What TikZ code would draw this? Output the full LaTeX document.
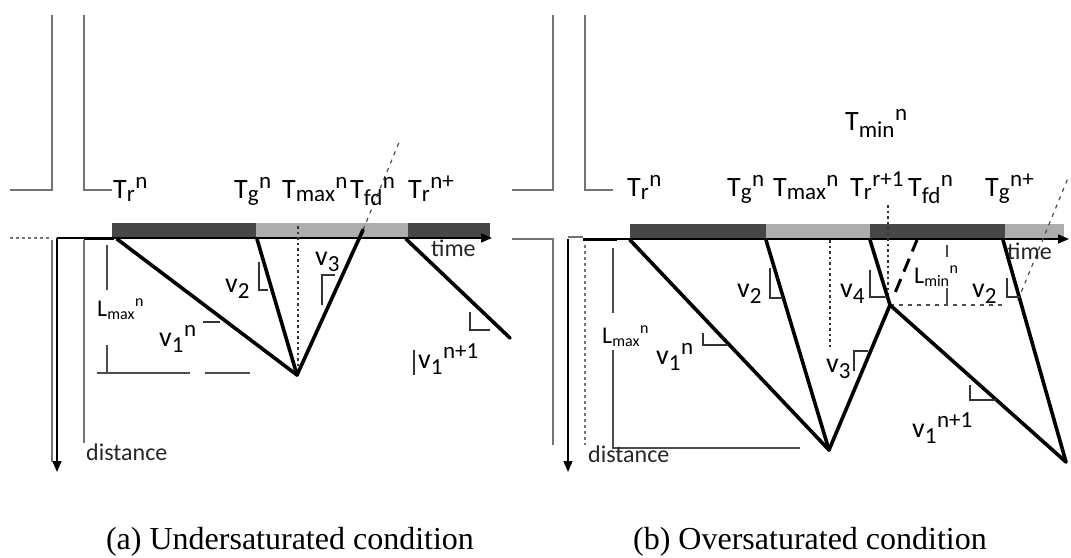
\documentclass[tikz,border=0pt]{standalone}
\usepackage{amsmath}
\usepackage{fontspec}
\setmainfont{Carlito}
\newfontfamily\capfont{Liberation Serif}
\usetikzlibrary{arrows.meta,calc}
\DeclareMathSizes{28}{28}{23}{17}
\DeclareMathSizes{24}{24}{16}{12}
% sub then sup after it
\newcommand\TL[3]{$\text{#1}_{\text{#2}}{}^{\text{#3}}$}
\tikzset{
  road/.style={draw=black!55, line width=1.6pt},
  axisline/.style={draw=black, line width=1.6pt},
  traj/.style={draw=black, line width=3.6pt, line cap=round},
  brk/.style={draw=black!80, line width=1.1pt},
  dimline/.style={draw=black!70, line width=1.3pt},
  dotv/.style={draw=black!80, line width=1.8pt, dash pattern=on 2.5pt off 3pt},
  dashx/.style={draw=black!70, line width=1.2pt, dash pattern=on 4pt off 5pt},
  darkbar/.style={fill=black!72, draw=none},
  lightbar/.style={fill=black!32, draw=none},
  lbl/.style={font=\fontsize{28}{30}\selectfont, inner sep=0pt, anchor=base west},
  slbl/.style={font=\fontsize{24}{26}\selectfont, inner sep=0pt, anchor=base west},
  axlbl/.style={font=\fontsize{24}{26}\selectfont, inner sep=0pt, anchor=base west, text=black!85},
  captxt/.style={font=\capfont\fontsize{32}{34}\selectfont, inner sep=0pt, anchor=base},
  arr/.style={-{Triangle[length=11pt,width=9pt]}}
}
\begin{document}
\begin{tikzpicture}[x=1pt,y=-1pt]
\useasboundingbox (0,0) rectangle (1071,557);
% ================= panel (a) =================
% road
\draw[road] (52,15) -- (52,190) -- (10,190);
\draw[road] (84,15) -- (84,190) -- (112,190);
\draw[road, dashed] (10,238) -- (52,238);
\draw[road] (52,240) -- (52,462);
\draw[road] (84,240) -- (84,443);
\draw[road] (512,190) -- (553,190) -- (553,15);
\draw[road] (585,15) -- (585,190) -- (613,190);
% time bar
\fill[darkbar] (112,223) rectangle (256,237);
\fill[lightbar] (256,223) rectangle (408,237);
\fill[darkbar] (408,223) rectangle (490,237);
% axes
\coordinate (oa) at (57,238);
\coordinate (ta) at (492,238);
\coordinate (da) at (57,472);
\draw[axisline, arr] (oa) -- (ta);
\draw[axisline, arr] (oa) -- (da);
\draw[line width=3pt] (84,238) -- (114,238);
% trajectories
\coordinate (a1) at (117,239);
\coordinate (a2) at (297,375);
\coordinate (a3) at (257,239);
\coordinate (a4) at (363,230);
\coordinate (a5) at (406,239);
\coordinate (a6) at (510,338);
\coordinate (a7) at (400,140);
\coordinate (a8) at (298,226);
\coordinate (a9) at (298,372);
\draw[dotv] (a8) -- (a9);
\draw[dashx] (a4) -- (a7);
\draw[traj] (a1) -- (a2);
\draw[traj] (a3) -- (a2);
\draw[traj] (a2) -- (a4);
\draw[traj] (a5) -- (a6);
% L_max dimension
\draw[dimline] (107,245) -- (107,290);
\draw[dimline] (107,345) -- (107,373);
\draw[dimline] (97,373) -- (190,373);
\draw[dimline] (205,373) -- (250,373);
% slope brackets
\draw[brk] (259,262) -- (259,290) -- (268,290);
\draw[brk] (322,305) -- (322,275) -- (335,275);
\draw[brk] (203,322) -- (220,322);
\draw[brk] (470,312) -- (470,330) -- (490,330);
\draw[brk] (414,350) -- (414,375);
% labels
\node[lbl] (trn) at (113,198) {\TL{T}{r}{n}};
\node[lbl] (tgn) at (234,198) {\TL{T}{g}{n}};
\node[lbl] (tmax) at (282,198) {\TL{T}{max}{n}};
\node[lbl] (tfd) at (350,198) {\TL{T}{fd}{n}};
\node[lbl] (trn1) at (408,198) {\TL{T}{r}{n+}};
\node[lbl] (v2a) at (225,292) {\TL{v}{2}{}};
\node[lbl] (v3a) at (315,265) {\TL{v}{3}{}};
\node[lbl] (v1a) at (159,346) {\TL{v}{1}{n}};
\node[lbl] (v1na) at (418,368) {\TL{v}{1}{n+1}};
\node[slbl] (lmaxa) at (97,316) {\TL{L}{max}{n}};
\node[axlbl] (timea) at (431,256) {time};
\node[axlbl] (dista) at (86,460) {distance};
% ================= panel (b) =================
\draw[road] (512,239) -- (553,239) -- (553,445);
\draw[road] (568,237) -- (583,237);
\draw[road, dashed] (585,245) -- (585,445);
% time bar
\fill[darkbar] (630,224) rectangle (766,238);
\fill[lightbar] (766,224) rectangle (870,238);
\fill[darkbar] (870,224) rectangle (1005,238);
\fill[lightbar] (1005,224) rectangle (1064,238);
\coordinate (ob) at (568,239);
\coordinate (ob2) at (583,239);
\coordinate (tb) at (1069,239);
\coordinate (db) at (568,472);
\draw[axisline, arr] (ob2) -- (tb);
\draw[axisline, arr] (ob) -- (db);
\draw[line width=3pt] (583,239) -- (617,239);
% L_max dimension
\draw[dimline] (613,248) -- (613,313);
\draw[dimline] (613,350) -- (613,448) -- (800,448);
% trajectories
\coordinate (b1) at (630,240);
\coordinate (b2) at (829,450);
\coordinate (b3) at (766,240);
\coordinate (b4) at (870,240);
\coordinate (b5) at (890,305);
\coordinate (b6) at (1003,240);
\coordinate (b7) at (1066,462);
\coordinate (b8) at (830,240);
\coordinate (b9) at (830,350);
\coordinate (b10) at (888,205);
\coordinate (b11) at (888,300);
\coordinate (b12) at (1003,305);
\coordinate (b13) at (917,240);
\coordinate (b14) at (1018,300);
\coordinate (b15) at (1068,178);
\draw[dotv] (b8) -- (b9);
\draw[dotv] (b10) -- (b11);
\draw[dashx] (b5) -- (b12);
\draw[dashx] (b14) -- (b15);
\draw[line width=3pt, dash pattern=on 14pt off 8pt] ($(b5)!0.2!(b13)$) -- (b13);
\draw[traj] (b1) -- (b2);
\draw[traj] (b3) -- (b2);
\draw[traj] (b2) -- (b5);
\draw[traj] (b4) -- (b5);
\draw[traj] (b5) -- (b7);
\draw[traj] (b6) -- (b7);
% L_min dimension
\draw[dimline] (947,245) -- (947,257);
\draw[dimline] (947,288) -- (947,305);
% slope brackets
\draw[brk] (770,268) -- (770,298) -- (783,298);
\draw[brk] (870,270) -- (870,297) -- (887,297);
\draw[brk] (1007,278) -- (1007,297) -- (1020,297);
\draw[brk] (854,371) -- (854,351) -- (868,351);
\draw[brk] (703,333) -- (703,345) -- (728,345);
\draw[brk] (970,385) -- (970,400) -- (996,400);
% labels
\node[lbl] (trnb) at (627,196) {\TL{T}{r}{n}};
\node[lbl] (tgnb) at (727,196) {\TL{T}{g}{n}};
\node[lbl] (tmaxb) at (773,196) {\TL{T}{max}{n}};
\node[lbl] (trr1b) at (850,196) {\TL{T}{r}{r+1}};
\node[lbl] (tfdb) at (908,196) {\TL{T}{fd}{n}};
\node[lbl] (tgn1b) at (985,196) {\TL{T}{g}{n+}};
\node[lbl] (tminb) at (845,130) {\TL{T}{min}{n}};
\node[lbl] (v2b) at (737,297) {\TL{v}{2}{}};
\node[lbl] (v4b) at (840,297) {\TL{v}{4}{}};
\node[lbl] (v2bb) at (972,297) {\TL{v}{2}{}};
\node[lbl] (v3b) at (826,372) {\TL{v}{3}{}};
\node[lbl] (v1b) at (656,364) {\TL{v}{1}{n}};
\node[lbl] (v1nb) at (912,437) {\TL{v}{1}{n+1}};
\node[slbl] (lmaxb) at (602,343) {\TL{L}{max}{n}};
\node[slbl] (lminb) at (914,283) {\TL{L}{min}{n}};
\node[axlbl] (timeb) at (1007,259) {time};
\node[axlbl] (distb) at (588,462) {distance};
% captions
\node[captxt] (capa) at (290,549) {(a) Undersaturated condition};
\node[captxt] (capb) at (810,549) {(b) Oversaturated condition};
\end{tikzpicture}
\end{document}
